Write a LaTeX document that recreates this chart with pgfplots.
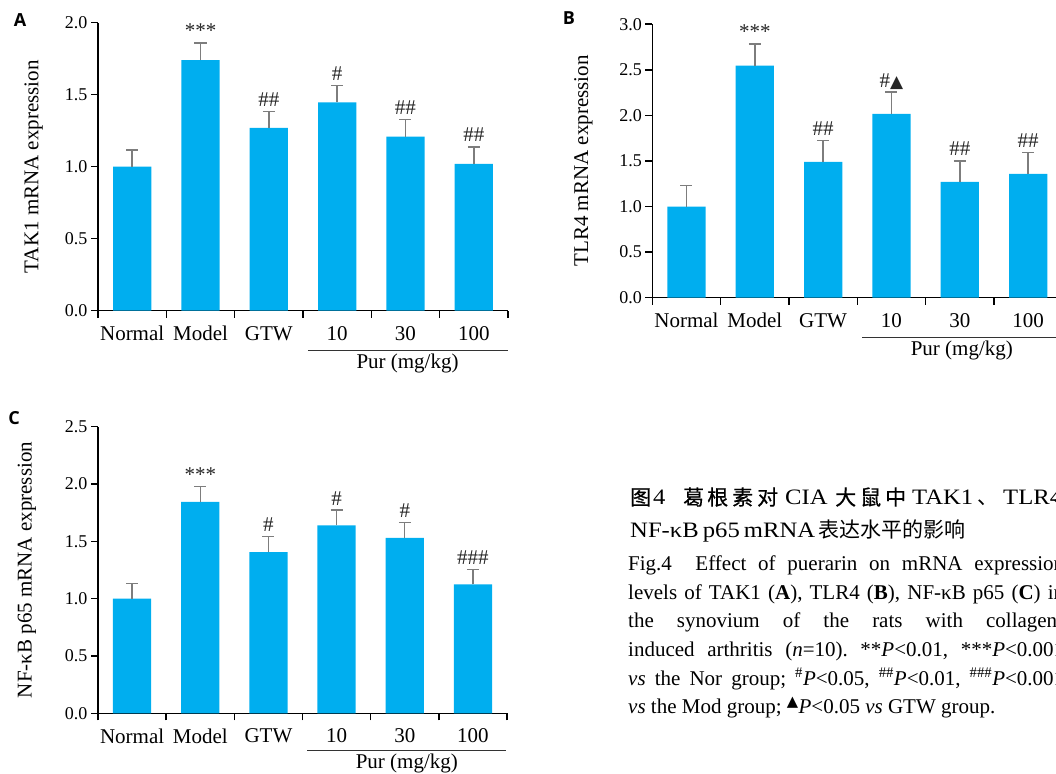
\documentclass[border=0pt]{standalone}
\usepackage{fontspec}
\usepackage{pgfplots}
\pgfplotsset{compat=1.18}
\setmainfont{Liberation Serif}
\newfontfamily\hdlat{Liberation Serif}[FakeStretch=1.12]
\newfontfamily\cjk{Noto Sans CJK SC}
\newfontfamily\cjkb{Noto Sans CJK SC}[FakeBold=0.6]
\newfontfamily\labfont{Open Sans}
\newfontfamily\sym{DejaVu Sans}
\definecolor{barc}{RGB}{0,174,239}
\definecolor{errc}{RGB}{125,125,125}

\pgfplotsset{
 panel/.style={
  scale only axis, width=410pt,
  xmin=0.5, xmax=6.5, ymin=0,
  axis x line*=bottom, axis y line*=left,
  axis line style={-, line width=1.6pt, black},
  xtick={1,...,6}, xticklabels={Normal,Model,GTW,10,30,100},
  minor xtick={0.5,1.5,...,6.5},
  major x tick style={draw=none},
  minor x tick style={black, line width=1.6pt},
  ytick style={black, line width=1.6pt},
  tick align=outside, major tick length=7pt, minor tick length=7pt,
  xticklabel style={font=\fontsize{21}{21}\selectfont, yshift=-5pt},
  yticklabel style={font=\fontsize{18}{18}\selectfont},
  ylabel style={font=\fontsize{21}{21}\selectfont, anchor=center},
  /pgf/number format/fixed, /pgf/number format/fixed zerofill,
  /pgf/number format/precision=1,
  /pgf/number format/assume math mode=true,
  clip=false,
 },
 bars/.style={ybar, bar width=0.56, fill=barc, draw=none,
  error bars/y dir=plus, error bars/y explicit,
  error bars/error bar style={errc, line width=1.4pt},
  error bars/error mark options={errc, line width=1.4pt, mark size=6pt, rotate=90}},
}
\tikzset{
 annot/.style={anchor=base, yshift=5pt, inner sep=0pt, font=\fontsize{21}{21}\selectfont, text=black!85},
 purlab/.style={font=\fontsize{21}{21}\selectfont},
}
\newcommand{\hd}[2]{\node[anchor=base west, inner sep=0pt] at (#1,268) {#2};}

\begin{document}
\frenchspacing
\begin{tikzpicture}[x=1pt,y=1pt]
\useasboundingbox (0,0) rectangle (1056,773);

% ---------- Panel A ----------
\begin{axis}[panel, at={(98pt,462.3pt)}, anchor=south west, height=288pt,
  ymax=2, ytick={0,0.5,1,1.5,2},
  ylabel={TAK1 mRNA expression},
  ylabel style={at={(axis description cs:-0.157,0.5)}}]
\addplot[bars] coordinates {(1,1.0) +- (0,0.115) (2,1.74) +- (0,0.12) (3,1.27) +- (0,0.115)
  (4,1.447) +- (0,0.116) (5,1.208) +- (0,0.121) (6,1.019) +- (0,0.118)};
\node[annot] at (axis cs:2,1.86) {***};
\node[annot] at (axis cs:3,1.385) {\#\#};
\node[annot] at (axis cs:4,1.563) {\#};
\node[annot] at (axis cs:5,1.329) {\#\#};
\node[annot] at (axis cs:6,1.137) {\#\#};
\draw[line width=0.9pt, black!80] (axis cs:3.57,0) ++(0pt,-39.3pt) -- ++(200pt,0pt);
\node[purlab] at (axis cs:5.03,0) [yshift=-53pt] {Pur (mg/kg)};
\end{axis}

% ---------- Panel B ----------
\begin{axis}[panel, at={(652.3pt,475.3pt)}, anchor=south west, height=273.4pt,
  ymax=3, ytick={0,0.5,1,1.5,2,2.5,3},
  ylabel={TLR4 mRNA expression},
  ylabel style={at={(axis description cs:-0.168,0.5)}}]
\addplot[bars] coordinates {(1,1.0) +- (0,0.233) (2,2.547) +- (0,0.238) (3,1.49) +- (0,0.233)
  (4,2.016) +- (0,0.239) (5,1.27) +- (0,0.23) (6,1.358) +- (0,0.234)};
\node[annot] at (axis cs:2,2.785) {***};
\node[annot] at (axis cs:3,1.723) {\#\#};
\node[annot] at (axis cs:4,2.255) {\#{\sym\fontsize{17}{17}\selectfont ▲}};
\node[annot] at (axis cs:5,1.50) {\#\#};
\node[annot] at (axis cs:6,1.592) {\#\#};
\draw[line width=0.9pt, black!80] (axis cs:3.57,0) ++(0pt,-39.6pt) -- ++(200pt,0pt);
\node[purlab] at (axis cs:5.03,0) [yshift=-53pt] {Pur (mg/kg)};
\end{axis}

% ---------- Panel C ----------
\begin{axis}[panel, at={(98pt,59.7pt)}, anchor=south west, height=286.6pt, width=409pt,
  ymax=2.5, ytick={0,0.5,1,1.5,2,2.5},
  ylabel={NF-κB p65 mRNA expression},
  ylabel style={at={(axis description cs:-0.174,0.5)}}]
\addplot[bars] coordinates {(1,1.0) +- (0,0.13) (2,1.845) +- (0,0.135) (3,1.406) +- (0,0.134)
  (4,1.639) +- (0,0.134) (5,1.531) +- (0,0.131) (6,1.125) +- (0,0.127)};
\node[annot] at (axis cs:2,1.98) {***};
\node[annot] at (axis cs:3,1.54) {\#};
\node[annot] at (axis cs:4,1.773) {\#};
\node[annot] at (axis cs:5,1.662) {\#};
\node[annot] at (axis cs:6,1.252) {\#\#\#};
\draw[line width=0.9pt, black!80] (axis cs:3.57,0) ++(0pt,-36.7pt) -- ++(199pt,0pt);
\node[purlab] at (axis cs:5.03,0) [yshift=-50pt] {Pur (mg/kg)};
\end{axis}

% ---------- Panel letters ----------
\node[font=\labfont\bfseries\fontsize{18}{18}\selectfont] at (20,753) {A};
\node[font=\labfont\bfseries\fontsize{18}{18}\selectfont] at (569,755) {B};
\node[font=\labfont\bfseries\fontsize{18}{18}\selectfont] at (14,355) {C};

% ---------- Caption ----------
\hd{630}{\cjkb\fontsize{21}{21}\selectfont 图}
\hd{653}{\hdlat\fontsize{22}{22}\selectfont 4}
\hd{683}{\cjkb\fontsize{21}{21}\selectfont 葛}
\hd{707}{\cjkb\fontsize{21}{21}\selectfont 根}
\hd{732}{\cjkb\fontsize{21}{21}\selectfont 素}
\hd{757}{\cjkb\fontsize{21}{21}\selectfont 对}
\hd{785}{\hdlat\fontsize{22}{22}\selectfont CIA}
\hd{835}{\cjkb\fontsize{21}{21}\selectfont 大}
\hd{860}{\cjkb\fontsize{21}{21}\selectfont 鼠}
\hd{885}{\cjkb\fontsize{21}{21}\selectfont 中}
\hd{912}{\hdlat\fontsize{22}{22}\selectfont TAK1}
\hd{977}{\cjk\fontsize{21}{21}\selectfont 、}
\hd{1003}{\hdlat\fontsize{22}{22}\selectfont TLR4}
\hd{1053}{\cjk\fontsize{21}{21}\selectfont 、}

\node[anchor=base west, inner sep=0pt] at (630,235)
  {\hdlat\fontsize{22}{22}\selectfont\makebox[185pt][s]{NF-κB p65 mRNA}};
\node[anchor=base west, inner sep=0pt] at (818,235)
  {\cjk\fontsize{21}{21}\selectfont 表达水平的影响};

\begin{scope}[every node/.style={anchor=base west, inner sep=0pt, font=\fontsize{21}{21}\selectfont}]
\node at (628,202.3) {\makebox[436pt][s]{Fig.4\ \ Effect of puerarin on mRNA expression}};
\node at (628,173.7) {\makebox[436pt][s]{levels of TAK1 (\textbf{A}), TLR4 (\textbf{B}), NF-κB p65 (\textbf{C}) in}};
\node at (628,145.1) {\makebox[436pt][s]{the synovium of the rats with collagen-}};
\node at (628,116.5) {\makebox[436pt][s]{induced arthritis (\textit{n}=10). **\textit{P}<0.01, ***\textit{P}<0.001}};
\node at (628,87.9) {\makebox[436pt][s]{\textit{vs} the Nor group; \textsuperscript{\#}\textit{P}<0.05, \textsuperscript{\#\#}\textit{P}<0.01, \textsuperscript{\#\#\#}\textit{P}<0.001}};
\node at (628,59.3) {\textit{vs} the Mod group; \textsuperscript{{\sym ▲}}\textit{P}<0.05 \textit{vs} GTW group.};
\end{scope}
\end{tikzpicture}
\end{document}
